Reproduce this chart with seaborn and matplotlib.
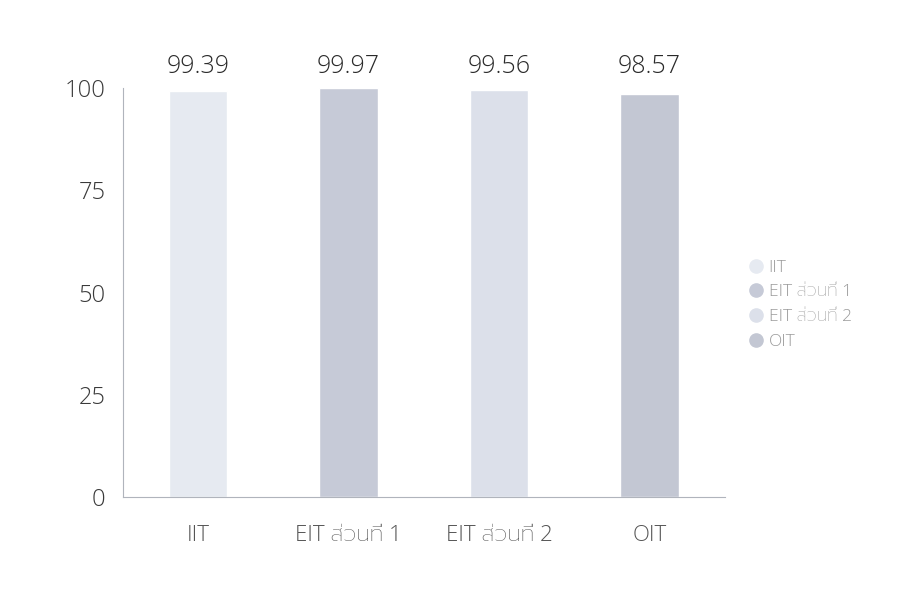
import matplotlib
matplotlib.use("Agg")
import matplotlib.pyplot as plt
from matplotlib import font_manager
from matplotlib.lines import Line2D
import pandas as pd
import seaborn as sns

# data
categories = ["IIT", "EIT ส่วนที่ 1", "EIT ส่วนที่ 2", "OIT"]
values = [99.39, 99.97, 99.56, 98.57]
value_labels = ["99.39", "99.97", "99.56", "98.57"]
y_ticks = [0, 25, 50, 75, 100]
bar_colors = ["#e6eaf1", "#c6cad7", "#dce0ea", "#c3c7d3"]


def pick_thai_font():
    # first of these Thai families that is installed
    installed = {f.name for f in font_manager.fontManager.ttflist}
    for name in ["Prompt", "Kanit", "Noto Sans Thai", "Bai Jamjuree", "Athiti"]:
        if name in installed:
            return [name]
    return []


sns.set_theme(style="white")
plt.rcParams["font.family"] = ["Open Sans"] + pick_thai_font() + ["DejaVu Sans"]
plt.rcParams["font.weight"] = "light"

df = pd.DataFrame({"cat": categories, "val": values})

fig = plt.figure(figsize=(8.97, 6.09), dpi=100)
ax = fig.add_axes([0.137, 0.184, 0.671, 0.671])

sns.barplot(data=df, x="cat", y="val", hue="cat", palette=bar_colors,
            width=0.39, legend=False, ax=ax, saturation=1)

ax.set_ylim(0, 100)
ax.set_xlim(-0.5, 3.5)
ax.set_yticks(y_ticks)
ax.set_xlabel("")
ax.set_ylabel("")
ax.tick_params(axis="y", labelsize=17, labelcolor="#3a3a3a", length=0, pad=12.5)
ax.tick_params(axis="x", labelsize=16, labelcolor="#555555", length=0, pad=20)

for s in ["top", "right"]:
    ax.spines[s].set_visible(False)
for s in ["left", "bottom"]:
    ax.spines[s].set_color("#b0b4bc")
    ax.spines[s].set_linewidth(0.8)

for i, lab in enumerate(value_labels):
    ax.annotate(lab, (i, 100), xytext=(0, 16), textcoords="offset points",
                ha="center", va="center", fontsize=18, color="#2a2a2a")

handles = [Line2D([], [], marker="o", linestyle="", markersize=9.5,
                  markerfacecolor=c, markeredgecolor=c) for c in bar_colors]
fig.legend(handles, categories, loc="upper left", bbox_to_anchor=(0.824, 0.574),
           frameon=False, fontsize=12.5, labelcolor="#9a9a9a", handletextpad=-0.3,
           labelspacing=0.5, borderaxespad=0, borderpad=0)

fig.savefig("out.png", dpi=100)
